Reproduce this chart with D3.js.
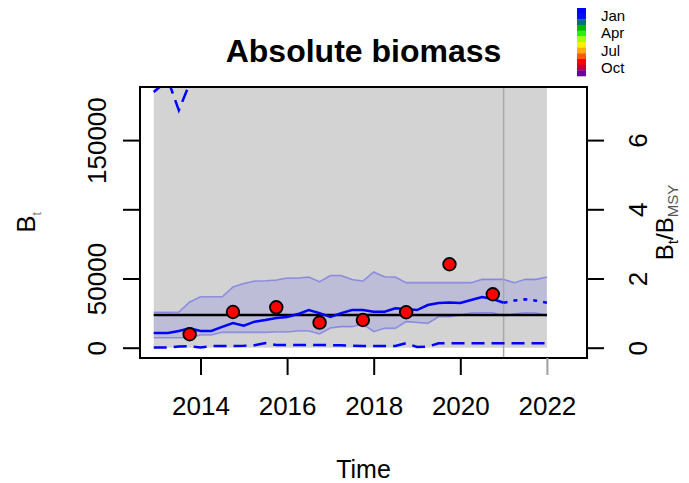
<!DOCTYPE html>
<html>
<head>
<meta charset="utf-8">
<script src="https://cdn.jsdelivr.net/npm/d3@7"></script>
<style>
  body { margin: 0; background: #ffffff; }
  text { font-family: "Liberation Sans", Arial, Helvetica, sans-serif; fill: #000; }
</style>
</head>
<body>
<svg id="chart" width="689" height="483"></svg>
<script>
// ---- data -------------------------------------------------------------
const time = [2012.92, 2013.25, 2013.5, 2013.75, 2014.0, 2014.25, 2014.5, 2014.75,
  2015.0, 2015.25, 2015.5, 2015.75, 2016.0, 2016.25, 2016.5, 2016.75,
  2017.0, 2017.25, 2017.5, 2017.75, 2018.0, 2018.25, 2018.5, 2018.75,
  2019.0, 2019.25, 2019.5, 2019.75, 2020.0, 2020.25, 2020.5, 2020.75,
  2021.0, 2021.25, 2021.5, 2021.75, 2022.0];

// estimated biomass B_t
const biomass = [10600, 10600, 12100, 14000, 12100, 12100, 15000, 17800,
  15900, 18800, 20000, 21500, 22200, 24300, 27200, 25000,
  22200, 25000, 27200, 27200, 26000, 26000, 28500, 28000,
  27200, 30800, 32300, 32700, 32300, 34500, 36600, 35200,
  32500, 34100, 35000, 34000, 32500];

// confidence band of B_t/B_MSY, expressed on the biomass scale
const bandLower = [7200, 7200, 7200, 7200, 9200, 9200, 11100, 11100,
  11100, 11100, 11100, 11300, 11300, 12100, 12100, 9900,
  14200, 15200, 15200, 17100, 11600, 14000, 14000, 18800,
  18200, 17600, 22400, 22400, 23600, 25100, 25300, 25300,
  22900, 24300, 25300, 25100, 22900];
const bandUpper = [25600, 25600, 25800, 33000, 36800, 36800, 36800, 43900,
  46400, 48200, 48400, 48900, 50400, 50400, 51100, 47700,
  52200, 52200, 49300, 48200, 54700, 51300, 51100, 47000,
  47000, 47000, 47000, 47000, 47000, 47000, 49400, 49400,
  49400, 47000, 49400, 49400, 51100];

// confidence interval of B_t
const ciLower = [200, 200, 900, 1000, 200, 1200, 1200, 1200,
  1400, 1800, 3400, 1900, 1900, 1900, 1900, 1900,
  1900, 1700, 1500, 1300, 1200, 1200, 1200, 3300,
  500, 800, 3200, 3200, 3200, 3200, 3200, 3200,
  3200, 3200, 3200, 3200, 3200];
const ciUpper = [184700, 193400, 171500, 191000, 232000, 245000, 258000, 262000,
  270000, 276000, 281000, 284000, 290000, 296000, 300000, 298000,
  296000, 302000, 305000, 303000, 308000, 306000, 310000, 312000,
  309000, 315000, 320000, 322000, 321000, 326000, 330000, 328000,
  324000, 330000, 334000, 336000, 338000];

// index observations (October surveys)
const obsTime = [2013.75, 2014.75, 2015.75, 2016.75, 2017.75, 2018.75, 2019.75, 2020.75];
const obsIndex = [9700, 25800, 29200, 18100, 20000, 25600, 60300, 38600];

const bmsy = 23600;            // reference line
const bmsyLow = 0;             // lower bound of B_MSY interval
const bmsyHigh = 400000;       // upper bound (beyond the plotted range)
const ratioUnit = 25000;       // biomass per unit of B_t/B_MSY on the right axis
const lastObsTime = 2021;

const xTicks = [2014, 2016, 2018, 2020, 2022];
const yTicks = [0, 50000, 100000, 150000];
const yTickLabels = ["0", "50000", "", "150000"];
const ratioTicks = [0, 2, 4, 6];
const seasonLabels = ["Jan", "Apr", "Jul", "Oct"];
const seasonColors = ["#0000ff", "#0010ee", "#00707f", "#00b800", "#30ee00", "#a8ff00",
  "#ffef00", "#ffae00", "#ff5a00", "#ff0000", "#c0003a", "#6a00a0"];

// ---- layout -----------------------------------------------------------
const svg = d3.select("#chart");
const plot = { left: 140, right: 587, top: 87, bottom: 358 };

const x = d3.scaleLinear().domain([2012.603, 2022.926]).range([plot.left, plot.right]);
const y = d3.scaleLinear().domain([-7440, 188360]).range([plot.bottom, plot.top]);
const yRatio = d3.scaleLinear()
  .domain([-7440 / ratioUnit, 188360 / ratioUnit]).range([plot.bottom, plot.top]);

svg.append("defs").append("clipPath").attr("id", "plotClip")
  .append("rect")
  .attr("x", plot.left).attr("y", plot.top)
  .attr("width", plot.right - plot.left).attr("height", plot.bottom - plot.top);

const g = svg.append("g").attr("clip-path", "url(#plotClip)");

// B_MSY interval
g.append("rect")
  .attr("x", x(time[0]))
  .attr("width", x(time[time.length - 1]) - x(time[0]))
  .attr("y", y(bmsyHigh))
  .attr("height", y(bmsyLow) - y(bmsyHigh))
  .attr("fill", "#d3d3d3");

// B/B_MSY band
const idx = d3.range(time.length);
g.append("path")
  .datum(idx)
  .attr("d", d3.area().x(i => x(time[i])).y0(i => y(bandLower[i])).y1(i => y(bandUpper[i])))
  .attr("fill", "rgba(0,0,255,0.1)");
[bandLower, bandUpper].forEach(arr => {
  g.append("path")
    .datum(idx)
    .attr("d", d3.line().x(i => x(time[i])).y(i => y(arr[i])))
    .attr("fill", "none")
    .attr("stroke", "rgba(0,0,255,0.3)")
    .attr("stroke-width", 1.6);
});

// end of observations
g.append("line")
  .attr("x1", x(lastObsTime)).attr("x2", x(lastObsTime))
  .attr("y1", plot.top).attr("y2", plot.bottom)
  .attr("stroke", "#a9a9a9").attr("stroke-width", 1.5);

// B_MSY line
g.append("line")
  .attr("x1", x(time[0])).attr("x2", x(time[time.length - 1]))
  .attr("y1", y(bmsy)).attr("y2", y(bmsy))
  .attr("stroke", "#000").attr("stroke-width", 2.4);

// confidence interval of B
[ciLower, ciUpper].forEach(arr => {
  g.append("path")
    .datum(idx)
    .attr("d", d3.line().x(i => x(time[i])).y(i => y(arr[i])))
    .attr("fill", "none")
    .attr("stroke", "#0000ff")
    .attr("stroke-width", 2.5)
    .attr("stroke-dasharray", "13,7");
});

// estimated biomass: fitted part solid, forecast dotted
const fitIdx = idx.filter(i => time[i] <= lastObsTime);
const predIdx = idx.filter(i => time[i] >= lastObsTime);
const bLine = d3.line().x(i => x(time[i])).y(i => y(biomass[i]));
g.append("path").datum(fitIdx).attr("d", bLine)
  .attr("fill", "none").attr("stroke", "#0000ff").attr("stroke-width", 2.5);
g.append("path").datum(predIdx).attr("d", bLine)
  .attr("fill", "none").attr("stroke", "#0000ff").attr("stroke-width", 2.5)
  .attr("stroke-dasharray", "4,6");

// observations
g.selectAll("circle.obs")
  .data(obsTime)
  .join("circle")
  .attr("class", "obs")
  .attr("cx", d => x(d))
  .attr("cy", (d, i) => y(obsIndex[i]))
  .attr("r", 6.3)
  .attr("fill", "#ff0000")
  .attr("stroke", "#000")
  .attr("stroke-width", 1.8);

// plot frame
svg.append("rect")
  .attr("x", plot.left).attr("y", plot.top)
  .attr("width", plot.right - plot.left).attr("height", plot.bottom - plot.top)
  .attr("fill", "none").attr("stroke", "#000").attr("stroke-width", 2);

// ---- axes -------------------------------------------------------------
const tickLen = 17;
const fontSize = 26;

const xAxis = svg.append("g")
  .attr("transform", `translate(0,${plot.bottom})`)
  .call(d3.axisBottom(x).tickValues(xTicks).tickSize(tickLen).tickFormat(d3.format("d")));
xAxis.select(".domain").remove();
xAxis.selectAll(".tick line").attr("stroke", d => d === 2022 ? "#a0a0a0" : "#000").attr("stroke-width", 2);
xAxis.selectAll(".tick text")
  .attr("y", 57).attr("dy", 0)
  .style("font-size", fontSize + "px").attr("fill", "#000");

const yAxis = svg.append("g")
  .attr("transform", `translate(${plot.left},0)`)
  .call(d3.axisLeft(y).tickValues(yTicks).tickSize(tickLen).tickFormat((d, i) => yTickLabels[i]));
yAxis.select(".domain").remove();
yAxis.selectAll(".tick line").attr("stroke", "#000").attr("stroke-width", 2);
yAxis.selectAll(".tick text")
  .attr("transform", "rotate(-90)")
  .attr("x", 0).attr("y", -34.5).attr("dy", 0)
  .attr("text-anchor", "middle")
  .style("font-size", fontSize + "px").attr("fill", "#000");

const rAxis = svg.append("g")
  .attr("transform", `translate(${plot.right},0)`)
  .call(d3.axisRight(yRatio).tickValues(ratioTicks).tickSize(tickLen).tickFormat(d3.format("d")));
rAxis.select(".domain").remove();
rAxis.selectAll(".tick line").attr("stroke", "#000").attr("stroke-width", 2);
rAxis.selectAll(".tick text")
  .attr("transform", "rotate(-90)")
  .attr("x", 0).attr("y", 59.5).attr("dy", 0)
  .attr("text-anchor", "middle")
  .style("font-size", fontSize + "px").attr("fill", "#000");

// ---- titles -----------------------------------------------------------
svg.append("text")
  .attr("x", (plot.left + plot.right) / 2).attr("y", 62)
  .attr("text-anchor", "middle")
  .style("font-size", "32px").style("font-weight", "bold")
  .text("Absolute biomass");

svg.append("text")
  .attr("x", (plot.left + plot.right) / 2).attr("y", 478)
  .attr("text-anchor", "middle")
  .style("font-size", "25px")
  .text("Time");

const yTitle = svg.append("text")
  .attr("transform", `translate(35,${(plot.top + plot.bottom) / 2}) rotate(-90)`)
  .attr("text-anchor", "middle")
  .style("font-size", "26px");
yTitle.append("tspan").text("B");
yTitle.append("tspan").attr("dy", 6).style("font-size", "12px").attr("fill", "#777").text("t");

const rTitle = svg.append("text")
  .attr("transform", `translate(673,${(plot.top + plot.bottom) / 2}) rotate(-90)`)
  .attr("text-anchor", "middle")
  .style("font-size", "24px");
rTitle.append("tspan").text("B");
rTitle.append("tspan").attr("dy", 5).style("font-size", "15px").text("t");
rTitle.append("tspan").attr("dy", -5).text("/");
rTitle.append("tspan").text("B");
rTitle.append("tspan").attr("dy", 5).style("font-size", "15px").attr("fill", "#555").text("MSY");

// ---- season legend ----------------------------------------------------
const legTop = 8, legBottom = 76, legX = 577, legW = 9;
const ly = d3.scaleBand().domain(d3.range(seasonColors.length)).range([legTop, legBottom]);
svg.append("g").selectAll("rect")
  .data(seasonColors)
  .join("rect")
  .attr("x", legX).attr("width", legW)
  .attr("y", (d, i) => ly(i)).attr("height", ly.bandwidth() + 0.3)
  .attr("fill", d => d);

const labelY = d3.scalePoint().domain(seasonLabels).range([20.5, 73]);
svg.append("g").selectAll("text")
  .data(seasonLabels)
  .join("text")
  .attr("x", 601)
  .attr("y", d => labelY(d))
  .style("font-size", "15px")
  .attr("fill", "#222")
  .text(d => d);
</script>
</body>
</html>
